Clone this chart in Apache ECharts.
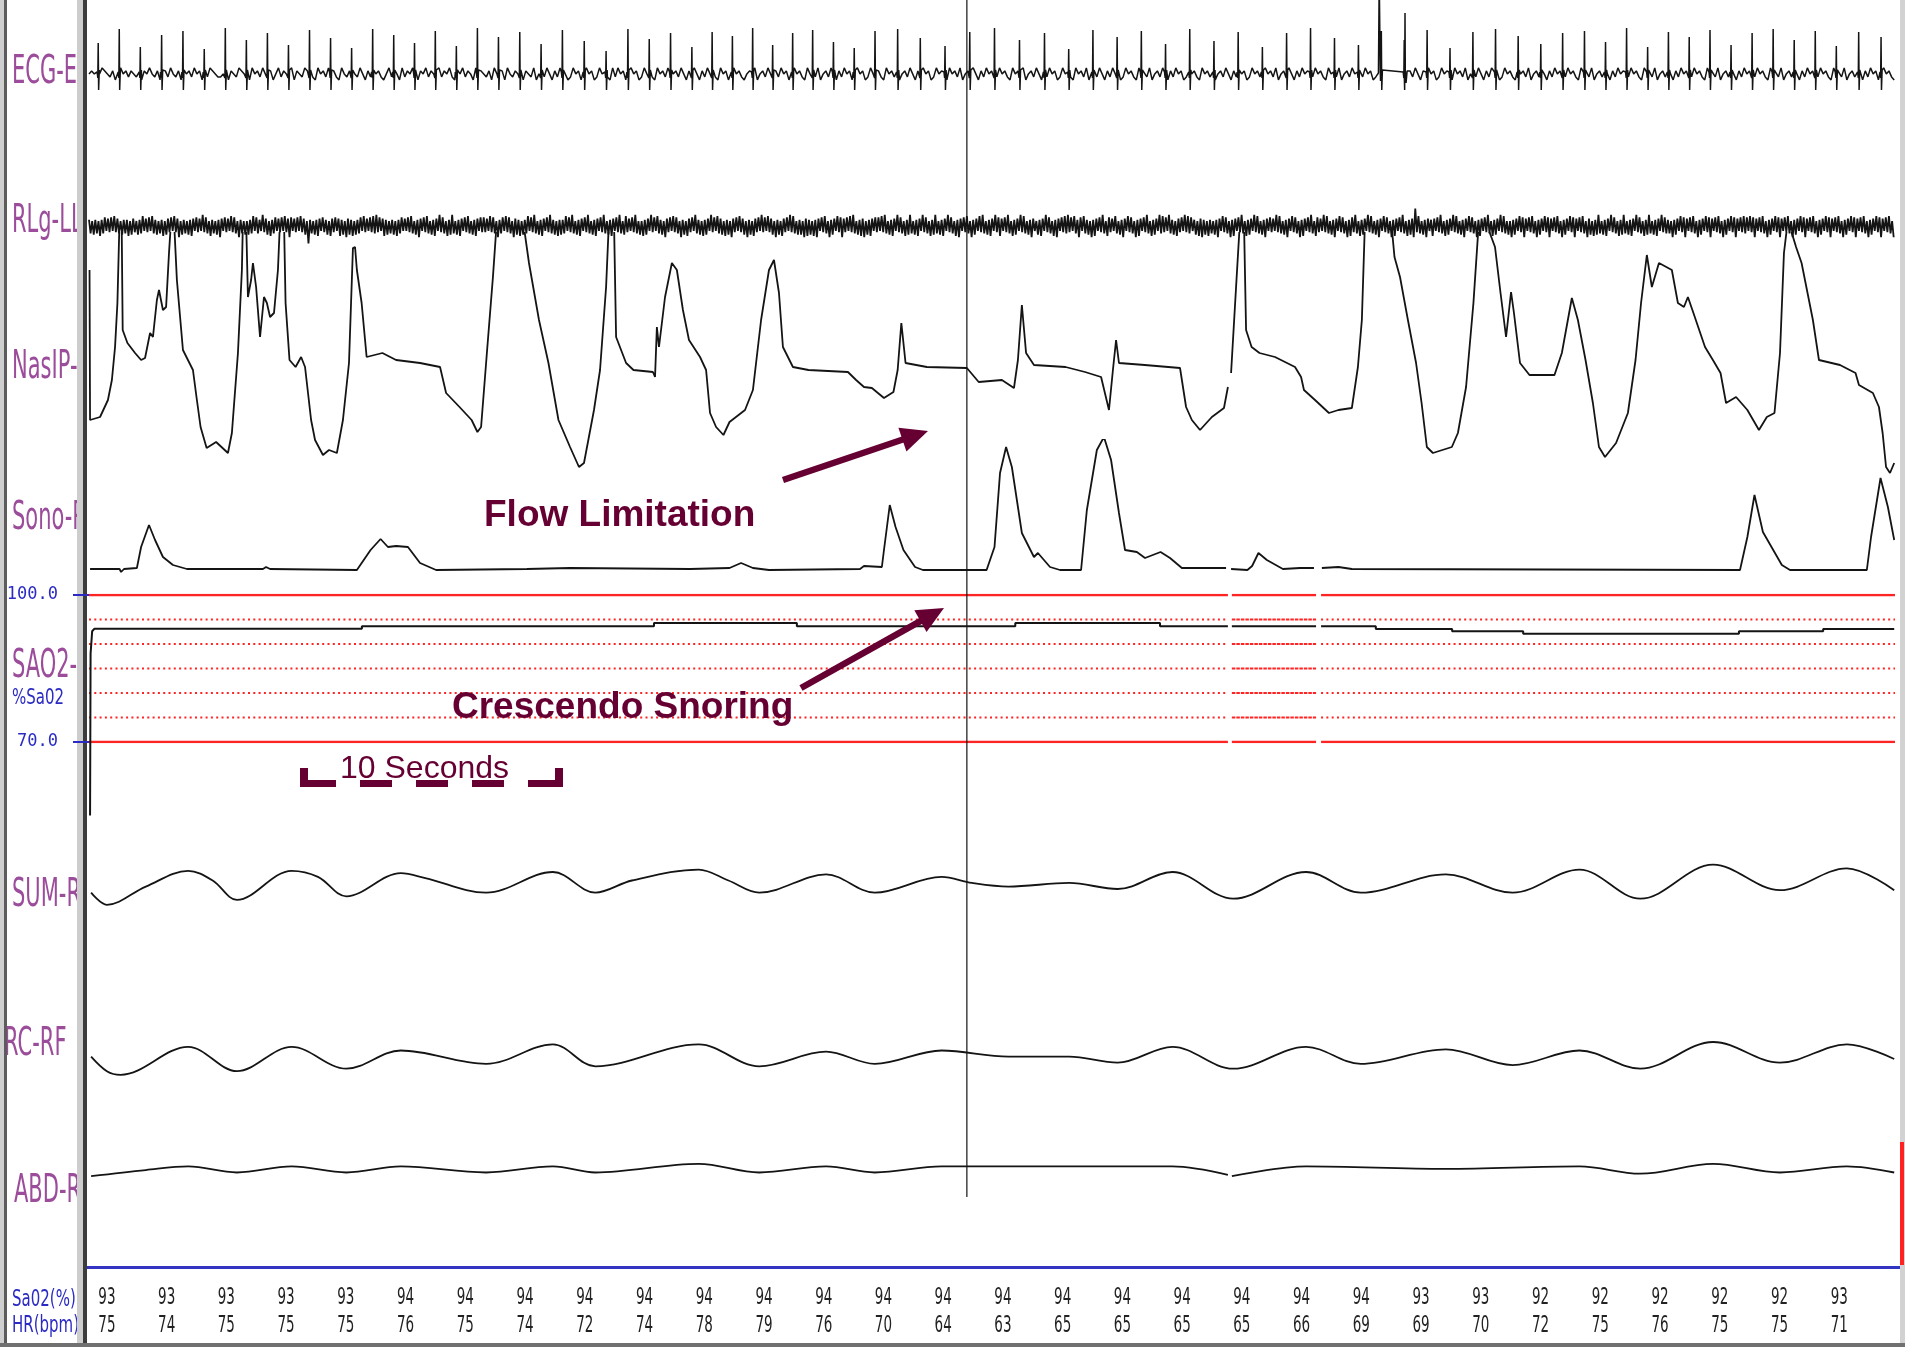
<!DOCTYPE html>
<html>
<head>
<meta charset="utf-8">
<script src="https://cdn.jsdelivr.net/npm/echarts@6/dist/echarts.min.js"></script>
<style>
html,body{margin:0;padding:0;background:#fff;}
#chart{width:1905px;height:1347px;}
</style>
</head>
<body>
<div id="chart"></div>
<script>
// ---- Recording window (seconds) ----
const T_END = 68.63;

// ---- Trend strip: one SaO2 / HR reading per epoch ----
const trendSaO2 = [93,93,93,93,93,94,94,94,94,94,94,94,94,94,94,94,94,94,94,94,94,94,93,93,92,92,92,92,92,93];
const trendHR   = [75,74,75,75,75,76,75,74,72,74,78,79,76,70,64,63,65,65,65,65,66,69,69,70,72,75,76,75,75,71];
const TREND_FIRST = 0.68, TREND_STEP = 2.27;

// ---- Signal dropouts (s) ----
const dropouts = [[43.28,43.43],[46.63,46.82]];

// ---- Cursor time (s) ----
const cursorTime = 33.36;

// ---- ECG: beat times (s), R amplitudes, QRS shape, baseline fuzz ----
const ecgBeatTimes = [0.35,1.15,1.95,2.76,3.57,4.38,5.18,5.98,6.78,7.58,8.38,9.18,9.98,10.78,
  11.58,12.37,13.16,13.96,14.76,15.56,16.37,17.18,17.99,18.82,19.65,20.48,21.29,22.10,22.91,
  23.68,24.45,25.22,25.98,26.74,27.50,28.29,29.08,29.87,30.73,31.59,32.53,33.47,34.41,35.36,
  36.31,37.23,38.15,39.07,39.99,40.91,41.83,42.75,43.67,44.59,45.51,46.42,47.33,48.24,49.11,
  49.98,50.85,51.72,52.59,53.45,54.31,55.17,56.00,56.83,57.63,58.43,59.23,60.02,60.81,61.60,
  62.40,63.20,64.00,64.80,65.60,66.40,67.25,68.10];
const ecgBeatR = [30,44,26,38,42,24,45,33,40,28,43,35,25,44,38,30,42,27,45,36,41,29,43,32,22,44,34,40,26,41,
  37,45,28,40,43,31,25,42,44,35,27,41,45,33,40,24,43,36,42,29,44,32,41,26,40,45,35,28,42,33,
  43,25,41,44,37,29,40,42,31,45,26,41,36,43,28,40,44,33,42,27,41,36];
const ecgQrs = [[-0.04,1],[-0.015,-5],[0,'R'],[0.016,-17],[0.04,3]];
const ECG_STEP = 0.1;
const ecgFuzz =
  '45434654352464535436254643524536435264536452436543' +
  '34625436543264536435246354362543654326453645326435' +
  '54364253645324635426354632546354263546325463542635' +
  '43526435264354625436245364253645236452364523645326' +
  '36452364523645326453624536425364253645326452364532' +
  '45362453642536452364532645362453642536452364523645' +
  '53264536245364253645236453264536245364253645236453' +
  '26453624536425364523645326453624536425364523645326' +
  '45362453642536452364532645362453642536452364532645' +
  '36245364253645236453264536245364253645236453264536' +
  '24536425364523645326453624536425364523645326453624' +
  '53642536452364532645362453642536452364532645362453' +
  '64253645236453264536245364253645236453264536245364' +
  '25364523645326453624536425364523645326453624536425';
const ecgArtifact = [[49.00,0],[49.03,95],[49.08,-8],[49.12,3],[49.98,0],[50.01,60],[50.05,-10],[50.09,2]];

// ---- Leg EMG: peak-to-peak swing per sample ----
const RLG_STEP = 0.06;
const rlgSwing =
  '45364537456354637455364547365436457354637546354736' +
  '54637458364536475364538465374536485364537465384536' +
  '36457365438456374563546374586354637456394536475364' +
  '46375463574638564736456374536475846357463546374563' +
  '53647536485364753647538465374685364753647536475364' +
  '64537465384563746538564736457364853647536485463746' +
  '45736485364753648536475364853647536485367453648536' +
  '37465384637546385463746538463754638546374653846375' +
  '56374638546374563846375463846374563846375463847536' +
  '46385746374853647538465374685463748536475836475364' +
  '63748536475384653746853647538465374685364753846537' +
  '48536475384653748536475384675364853746538475364853' +
  '36475384653748536475846375486375463847536485376453' +
  '75364853746538475364853746538574638546375463847563' +
  '46375846374536485374653847536485374653847536485364' +
  '53847536485374653847536485376453847536485374653847' +
  '64853746538475364853746538475364853746589475364853' +
  '47536485374653847536485374653847536485374653847536' +
  '38465374685364753846537468536475384653746853647538' +
  '56374685364753846537468536475384653746853647538465' +
  '45384653746853647538465374685364753846537468536475' +
  '63746853647538465374685364753846537468536475384653' +
  '74685364753846537468536475384653746853647538465374';
const rlgLevels = [1,2,3,4,5,6,7,8,9,14];

// ---- Nasal pressure (t s, amplitude) ----
const nasalPressure = [[0.02,210],[0.04,60],[0.42,63],[0.72,80],[0.87,100],[0.99,133],[1.08,177],[1.16,260],[1.24,260],
  [1.28,150],[1.46,137],[1.75,127],[1.98,120],[2.13,122],[2.32,147],[2.43,143],[2.58,180],[2.66,190],[2.81,170],[2.93,173],
  [3.04,227],[3.12,260],[3.23,260],[3.34,200],[3.57,130],[3.95,110],[4.10,80],[4.24,53],[4.47,32],[4.83,38],[5.28,27],
  [5.43,47],[5.66,127],[5.81,210],[5.85,260],[5.97,260],[6.04,183],[6.16,200],[6.23,217],[6.35,193],[6.50,143],[6.65,183],
  [6.76,177],[6.88,163],[7.03,167],[7.18,210],[7.26,260],[7.41,260],[7.47,177],[7.62,120],[7.85,113],[8.06,123],[8.21,113],
  [8.44,60],[8.59,40],[8.89,25],[9.12,30],[9.42,27],[9.65,60],[9.88,117],[10.03,232],[10.11,233],[10.18,210],[10.36,177],
  [10.55,123],[11.15,127],[11.67,120],[12.58,117],[13.34,113],[13.57,87],[14.08,73],[14.54,60],[14.76,48],[14.90,53],
  [15.12,127],[15.35,203],[15.50,260],[16.49,260],[16.72,217],[17.10,160],[17.46,117],[17.84,60],[18.28,33],[18.62,13],
  [18.81,17],[19.19,70],[19.42,110],[19.65,193],[19.76,260],[19.95,260],[20.03,143],[20.41,117],[20.69,110],[21.43,108],
  [21.51,103],[21.58,153],[21.66,133],[21.89,183],[22.15,217],[22.34,210],[22.57,170],[22.80,140],[23.22,123],[23.45,110],
  [23.60,67],[23.83,53],[24.11,45],[24.34,58],[24.93,70],[25.23,90],[25.54,160],[25.84,210],[26.03,220],[26.22,187],
  [26.37,133],[26.75,113],[27.34,110],[28.84,108],[29.15,100],[29.45,93],[29.75,92],[30.21,82],[30.57,88],[30.73,110],
  [30.87,157],[31.03,117],[31.84,113],[33.36,112],[33.81,98],[34.69,100],[35.15,92],[35.30,120],[35.45,175],[35.61,127],
  [35.91,115],[37.11,113],[37.85,108],[38.46,103],[38.76,70],[38.91,110],[39.03,140],[39.14,117],[40.12,115],[41.46,112],
  [41.69,73],[41.91,60],[42.22,50],[42.67,63],[43.13,72],[43.28,93],null,[43.40,107],[43.59,193],[43.74,260],[43.89,260],
  [43.97,150],[44.18,133],[44.48,127],[45.07,123],[45.83,113],[46.06,103],[46.17,90],[46.59,80],[47.12,67],[47.48,70],
  [47.99,72],[48.22,113],[48.37,160],[48.49,260],[49.48,260],[49.61,223],[49.82,203],[50.12,160],[50.43,117],[50.64,77],
  [50.84,33],[51.07,27],[51.79,33],[52.02,47],[52.33,93],[52.61,177],[52.82,260],[53.05,260],[53.43,233],[53.64,187],
  [53.85,143],[54.04,188],[54.15,167],[54.38,117],[54.74,105],[55.69,105],[55.97,127],[56.35,182],[56.58,160],[56.87,120],
  [57.15,77],[57.38,33],[57.61,23],[58.03,37],[58.48,67],[58.77,120],[58.98,177],[59.20,225],[59.39,193],[59.66,217],
  [60.15,210],[60.38,177],[60.61,173],[60.76,183],[60.97,167],[61.41,133],[61.71,120],[62.00,107],[62.21,77],[62.59,83],
  [63.02,70],[63.46,50],[63.76,63],[64.05,67],[64.26,127],[64.41,227],[64.56,260],[64.87,233],[65.08,217],[65.51,160],
  [65.74,120],[66.54,115],[67.13,107],[67.26,95],[67.79,87],[68.02,73],[68.16,47],[68.29,13],[68.44,7],[68.60,17]];

// ---- Snore sensor (t s, amplitude) ----
const snore = [[0.04,11],[1.16,11],[1.22,8],[1.33,11],[1.82,12],[1.98,33],[2.28,55],[2.51,40],[2.81,23],[3.19,15],[3.72,11],
  [6.61,11],[6.73,13],[6.88,11],[10.18,10],[10.70,30],[11.08,41],[11.36,33],[11.67,34],[12.12,33],[12.58,17],[13.19,10],
  [16.64,11],[18.28,12],[22.84,11],[24.34,12],[24.78,17],[25.23,12],[25.84,10],[29.30,11],[29.45,14],[30.13,13],[30.21,30],
  [30.43,75],[30.65,53],[30.95,30],[31.39,13],[31.69,10],[34.11,10],[34.41,33],[34.62,107],[34.85,133],[35.07,113],
  [35.45,47],[35.91,23],[36.06,27],[36.52,13],[36.90,10],[37.70,10],[37.92,70],[38.30,130],[38.57,143],[38.84,120],
  [39.14,67],[39.37,30],[39.82,28],[40.13,22],[40.72,28],[41.08,22],[41.53,12],[43.21,12],null,[43.40,11],[44.02,10],
  [44.20,14],[44.44,27],[44.76,20],[45.37,11],[46.02,12],[46.55,12],null,[46.85,12],[47.48,13],[47.99,11],[62.74,10],
  [63.02,43],[63.29,85],[63.61,48],[64.33,15],[64.64,10],[67.56,10],[67.72,43],[68.08,102],[68.36,73],[68.60,40]];

// ---- SaO2 (%) ----
const saturation = [[0.04,55],[0.06,88],[0.12,92.6],[0.2,93.1],[10.37,93.1],[10.37,93.6],[21.47,93.6],[21.47,94.3],
  [26.9,94.3],[26.9,93.6],[35.2,93.6],[35.2,94.3],[40.7,94.3],[40.7,93.6],[43.28,93.6],null,[43.43,93.6],[46.63,93.6],null,
  [46.82,93.6],[48.9,93.6],[48.9,93.05],[51.8,93.05],[51.8,92.6],[54.5,92.6],[54.5,92.1],[62.7,92.1],[62.7,92.6],
  [65.9,92.6],[65.9,93.05],[68.6,93.05]];
const satBounds = [100, 70];
const satLevels = [95, 90, 85, 80, 75];

// ---- Effort belts (t s, amplitude) ----
const sumEffort = [[0.08,25],[0.68,15],[2.16,30],[3.77,43],[4.7,35],[5.62,19],[7.70,43],[8.7,38],[9.78,22],[11.85,41],
  [12.78,37],[15.09,25],[17.63,42],[19.24,25],[20.63,35],[23.17,44],[24.3,35],[25.47,25],[28.01,40],[29.86,25],[32.40,38],
  [33.55,33],[34.94,30],[37.25,33],[39.09,28],[41.17,42],[43.48,20],[46.25,42],[48.33,25],[51.56,40],[54.10,25],[56.64,44],
  [58.95,20],[61.72,48],[64.26,27],[66.80,45],[68.60,27]];
const ribcage = [[0.08,30],[0.68,18],[1.2,15],[3.77,38],[5.62,18],[7.70,38],[9.78,20],[11.85,35],[15.09,24],[17.63,40],
  [19.24,22],[23.17,40],[25.47,22],[28.01,34],[29.86,24],[32.40,35],[34.94,30],[37.25,30],[39.09,25],[41.17,38],[43.48,20],
  [46.25,38],[48.33,24],[51.56,36],[54.10,23],[56.64,35],[58.95,20],[61.72,42],[64.26,25],[66.80,40],[68.60,28]];
const abdomen = [[0.08,22],[2.16,27],[3.77,30],[5.62,25],[7.70,30],[9.78,25],[11.85,30],[15.09,25],[17.63,30],[19.24,25],
  [23.17,32],[25.47,25],[28.01,30],[29.86,25],[32.40,30],[41.17,30],[43.28,23],null,[43.43,22],[46.25,30],[51.56,28],
  [56.64,30],[58.95,24],[61.72,32],[64.26,25],[66.80,30],[68.60,25]];

// ---------------------------------------------------------------
const BREAK = ['-', '-'];
const withBreaks = arr => arr.map(p => p === null ? BREAK : p);

// ECG series: fuzz samples outside the QRS windows plus one QRS per beat
const ecgData = [];
for (let i = 0; i < ecgFuzz.length; i++) {
  const t = i * ECG_STEP;
  if (t > T_END) break;
  if (ecgBeatTimes.some(b => Math.abs(t - b) < 0.05)) continue;
  if (t > 48.98 && t < 50.11) continue;
  ecgData.push([t, (Number(ecgFuzz[i]) - 4.3) * 3]);
}
ecgBeatTimes.forEach((b, i) => {
  ecgQrs.forEach(([dt, v]) => ecgData.push([b + dt, v === 'R' ? ecgBeatR[i] : v]));
});
ecgArtifact.forEach(p => ecgData.push(p));
ecgData.sort((a, b) => a[0] - b[0]);

// Leg EMG series: alternating swing around the baseline
const rlgData = [];
for (let i = 0; i < rlgSwing.length; i++) {
  const t = i * RLG_STEP;
  if (t > T_END) break;
  const a = rlgLevels[Number(rlgSwing[i])];
  rlgData.push([t, (i % 2 ? -a : a) * 1.25]);
}

// SaO2 reference lines, broken at dropouts
function levelLine(levels, from, to) {
  const out = [];
  levels.forEach(L => { out.push([from, L], [to, L], BREAK); });
  return out;
}
const segs = [[0, dropouts[0][0]], [dropouts[0][1], dropouts[1][0]], [dropouts[1][1], T_END]];
const solidRef = [].concat(...segs.map(s => levelLine(satBounds, s[0], s[1])));
const dottedRef = [].concat(levelLine(satLevels, segs[0][0], segs[0][1]), levelLine(satLevels, segs[2][0], segs[2][1]));
const denseRef = levelLine(satLevels, segs[1][0], segs[1][1]);

// Trend numbers
const trendData = [];
trendSaO2.forEach((v, i) => trendData.push([TREND_FIRST + i * TREND_STEP, 1.5, v]));
trendHR.forEach((v, i) => trendData.push([TREND_FIRST + i * TREND_STEP, 0.5, v]));

// ---------------------------------------------------------------
const GRID_LEFT = 89, GRID_W = 1806;
const panels = [
  { top: 0,    height: 146, min: -73, max: 73 },   // 0 ECG
  { top: 196,  height: 60,  min: -30, max: 30 },   // 1 RLg
  { top: 233,  height: 247, min: 0,   max: 247 },  // 2 NasIP
  { top: 440,  height: 140, min: 0,   max: 140 },  // 3 Sono
  { top: 595,  height: 147, min: 70,  max: 100 },  // 4 SaO2
  { top: 838,  height: 85,  min: 0,   max: 70 },   // 5 SUM
  { top: 1008, height: 85,  min: 0,   max: 70 },   // 6 RC
  { top: 1142, height: 61,  min: 0,   max: 50 },   // 7 ABD
  { top: 1284, height: 56,  min: 0,   max: 2 },    // 8 trend numbers
  { top: 0,    height: 1197, min: 0,  max: 1 }     // 9 cursor
];

const grid = panels.map(p => ({ left: GRID_LEFT, width: GRID_W, top: p.top, height: p.height, show: false }));
const xAxis = panels.map((p, i) => ({ type: 'value', gridIndex: i, min: 0, max: T_END, show: false }));
const yAxis = panels.map((p, i) => ({ type: 'value', gridIndex: i, min: p.min, max: p.max, show: false }));

const BLUE = '#2b2bc4';
yAxis[4] = {
  type: 'value', gridIndex: 4, min: 70, max: 100, show: true, position: 'left', offset: 6, z: 10,
  axisLine: { show: false }, splitLine: { show: false },
  axisTick: { show: true, length: 16, customValues: [70, 100], lineStyle: { color: BLUE, width: 2 } },
  axisLabel: { show: true, margin: 25, customValues: [70, 100], color: BLUE,
    fontFamily: 'DejaVu Sans Mono', fontSize: 17, formatter: v => v.toFixed(1) }
};

function trace(idx, data, opts) {
  opts = opts || {};
  return Object.assign({
    type: 'line', xAxisIndex: idx, yAxisIndex: idx, data: data, symbol: 'none',
    silent: true, animation: false, connectNulls: false,
    lineStyle: { color: '#141414', width: opts.width || 1.6 }
  }, opts.extra || {});
}

const RED = '#ff2424';
const series = [
  trace(0, ecgData, { width: 1.5 }),
  trace(1, rlgData, { width: 1.8 }),
  trace(2, withBreaks(nasalPressure), { width: 1.8 }),
  trace(3, withBreaks(snore), { width: 1.8 }),
  { type: 'line', xAxisIndex: 4, yAxisIndex: 4, data: solidRef, symbol: 'none', silent: true, animation: false,
    lineStyle: { color: RED, width: 2.5 } },
  { type: 'line', xAxisIndex: 4, yAxisIndex: 4, data: dottedRef, symbol: 'none', silent: true, animation: false,
    lineStyle: { color: RED, width: 2, type: [2, 3.3] } },
  { type: 'line', xAxisIndex: 4, yAxisIndex: 4, data: denseRef, symbol: 'none', silent: true, animation: false,
    lineStyle: { color: RED, width: 2.2, type: [3.5, 1] } },
  trace(4, withBreaks(saturation), { width: 2, extra: { clip: false } }),
  trace(5, sumEffort, { width: 1.8, extra: { smooth: 0.35 } }),
  trace(6, ribcage, { width: 1.8, extra: { smooth: 0.35 } }),
  trace(7, withBreaks(abdomen), { width: 1.8, extra: { smooth: 0.35 } }),
  {
    type: 'custom', xAxisIndex: 8, yAxisIndex: 8, data: trendData, silent: true, animation: false,
    renderItem: (params, api) => {
      const p = api.coord([api.value(0), api.value(1)]);
      return { type: 'text', x: p[0], y: p[1], scaleY: 1.55,
        style: { text: String(api.value(2)), fill: '#222222', font: '15px "DejaVu Sans Condensed", "DejaVu Sans"',
          textAlign: 'center', textVerticalAlign: 'middle' } };
    }
  },
  trace(9, [[cursorTime, 0], [cursorTime, 1]], { width: 1.2 })
];

// ---------------------------------------------------------------
const PURPLE = '#9b4d9b', MAROON = '#660033';
function chanLabel(text, x, y, color, size, sy) {
  return { type: 'text', x: x, y: y, scaleY: sy, z: 4, silent: true,
    style: { text: text, fill: color, font: size + 'px "DejaVu Sans"', textAlign: 'left', textVerticalAlign: 'middle' } };
}
function arrow(x1, y1, x2, y2) {
  const dx = x2 - x1, dy = y2 - y1, L = Math.hypot(dx, dy), ux = dx / L, uy = dy / L;
  const hl = 27, hw = 12.5, bx = x2 - ux * hl, by = y2 - uy * hl;
  return [
    { type: 'line', z: 20, silent: true, shape: { x1: x1, y1: y1, x2: bx + ux * 2, y2: by + uy * 2 },
      style: { stroke: MAROON, lineWidth: 6.5 } },
    { type: 'polygon', z: 20, silent: true,
      shape: { points: [[x2, y2], [bx - uy * hw, by + ux * hw], [bx + uy * hw, by - ux * hw]] },
      style: { fill: MAROON } }
  ];
}

const graphic = [
  // frame
  { type: 'rect', z: 5, silent: true, shape: { x: 0, y: 0, width: 4, height: 1347 }, style: { fill: '#cfcfcf' } },
  { type: 'rect', z: 5, silent: true, shape: { x: 4, y: 0, width: 3, height: 1347 }, style: { fill: '#5c5c5c' } },
  { type: 'rect', z: 5, silent: true, shape: { x: 77, y: 0, width: 6, height: 1347 }, style: { fill: '#cdcdcd' } },
  { type: 'rect', z: 5, silent: true, shape: { x: 83, y: 0, width: 4, height: 1347 }, style: { fill: '#3c3c3c' } },
  { type: 'rect', z: 5, silent: true, shape: { x: 1900, y: 0, width: 5, height: 1347 }, style: { fill: '#d2d2d2' } },
  { type: 'rect', z: 6, silent: true, shape: { x: 1900, y: 1142, width: 4, height: 123 }, style: { fill: '#ff2020' } },
  { type: 'rect', z: 6, silent: true, shape: { x: 0, y: 1343, width: 1905, height: 4 }, style: { fill: '#707070' } },
  { type: 'rect', z: 6, silent: true, shape: { x: 87, y: 1266, width: 1813, height: 3 }, style: { fill: '#3434c2' } },

  // channel labels
  chanLabel('ECG-E', 12, 73, PURPLE, 21, 1.9),
  chanLabel('RLg-LL', 12, 222, PURPLE, 21, 1.9),
  chanLabel('NasIP-', 12, 368, PURPLE, 21, 1.9),
  chanLabel('Sono-R', 12, 519, PURPLE, 21, 1.9),
  chanLabel('SAO2-', 12, 667, PURPLE, 21, 1.9),
  chanLabel('%Sa02', 12, 698, BLUE, 15, 1.45),
  chanLabel('SUM-R', 12, 896, PURPLE, 21, 1.9),
  chanLabel('RC-RF', 4, 1045, PURPLE, 21, 1.9),
  chanLabel('ABD-R', 14, 1192, PURPLE, 21, 1.9),
  chanLabel('Sa02(%)', 12, 1300, BLUE, 15, 1.55),
  chanLabel('HR(bpm)', 12, 1326, BLUE, 15, 1.55),

  // annotations
  { type: 'text', x: 484, y: 516, z: 20, silent: true,
    style: { text: 'Flow Limitation', fill: MAROON, font: 'bold 37px "Liberation Sans", Arial, sans-serif',
      textAlign: 'left', textVerticalAlign: 'middle' } },
  { type: 'text', x: 452, y: 708, z: 20, silent: true,
    style: { text: 'Crescendo Snoring', fill: MAROON, font: 'bold 37px "Liberation Sans", Arial, sans-serif',
      textAlign: 'left', textVerticalAlign: 'middle' } },
  ...arrow(783, 480, 928, 431),
  ...arrow(801, 688, 944, 608),

  // 10 s scale bar
  { type: 'text', x: 340, y: 769, z: 20, silent: true,
    style: { text: '10 Seconds', fill: MAROON, font: '32px "Liberation Sans", Arial, sans-serif',
      textAlign: 'left', textVerticalAlign: 'middle' } },
  { type: 'rect', z: 20, silent: true, shape: { x: 300, y: 768, width: 8, height: 19 }, style: { fill: MAROON } },
  { type: 'rect', z: 20, silent: true, shape: { x: 555, y: 768, width: 8, height: 19 }, style: { fill: MAROON } },
  ...[[303, 336], [360, 392], [416, 448], [472, 504], [528, 560]].map(([a, b]) => (
    { type: 'rect', z: 20, silent: true, shape: { x: a, y: 780, width: b - a, height: 7 }, style: { fill: MAROON } }))
];

const chart = echarts.init(document.getElementById('chart'), null, { renderer: 'canvas' });
chart.setOption({
  backgroundColor: '#ffffff',
  animation: false,
  grid: grid,
  xAxis: xAxis,
  yAxis: yAxis,
  series: series,
  graphic: graphic
});
</script>
</body>
</html>
